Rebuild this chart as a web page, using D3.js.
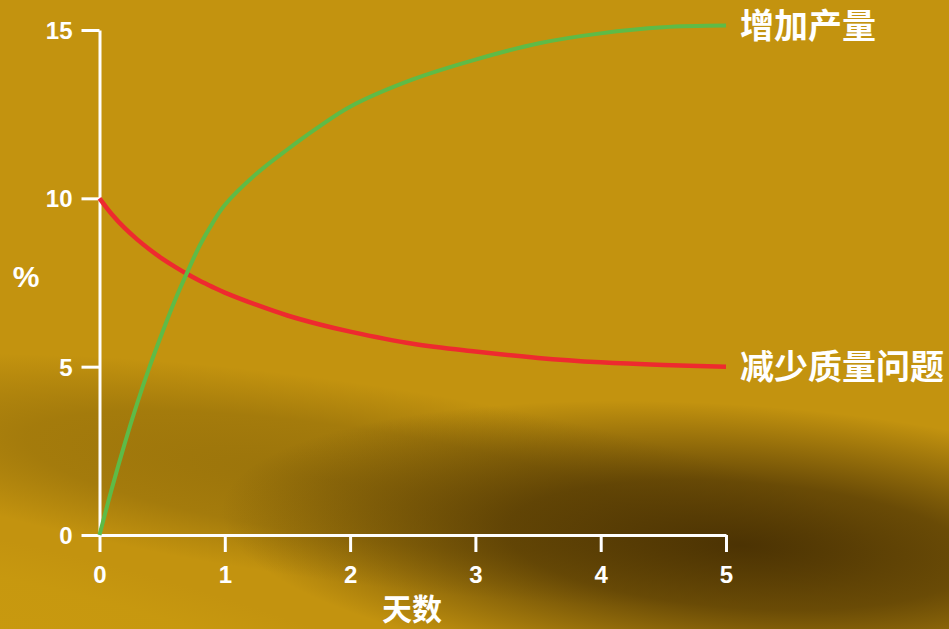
<!DOCTYPE html>
<html>
<head>
<meta charset="utf-8">
<script src="https://cdn.jsdelivr.net/npm/d3@7"></script>
<style>
  html, body { margin: 0; padding: 0; background: #c3930f; overflow: hidden; }
  svg { display: block; }
</style>
</head>
<body>
<div id="chart"></div>
<script>
const days = [0, 0.1, 0.2, 0.3, 0.4, 0.5, 0.6, 0.7, 0.8, 0.9, 1, 1.25, 1.5, 1.75, 2, 2.5, 3, 3.5, 4, 4.5, 5]
const yieldUp = [0, 1.4, 2.7, 3.9, 5.0, 6.0, 6.95, 7.8, 8.6, 9.25, 9.8, 10.72, 11.45, 12.12, 12.72, 13.53, 14.12, 14.6, 14.9, 15.08, 15.13]
const qualityDown = [10, 9.52, 9.12, 8.78, 8.48, 8.21, 7.97, 7.75, 7.55, 7.37, 7.2, 6.84, 6.52, 6.26, 6.04, 5.68, 5.45, 5.26, 5.13, 5.05, 5.0]
const xTicks = [0, 1, 2, 3, 4, 5]
const yTicks = [0, 5, 10, 15]
const seriesNames = ['增加产量', '减少质量问题']

const W = 949, H = 629

const svg = d3.select('#chart')
  .append('svg')
  .attr('viewBox', [0, 0, W, H])
  .attr('width', W)
  .attr('height', H)

// 背景 (ぼかした帯)
const defs = svg.append('defs')
const glow = (id, color, stops) => {
  const g = defs.append('radialGradient').attr('id', id)
  stops.forEach(([o, a]) => g.append('stop')
    .attr('offset', o).attr('stop-color', color).attr('stop-opacity', a))
}
glow('band', '#7f5e08', [['0%', 0.6], ['55%', 0.45], ['100%', 0]])
glow('deep', '#4c3303', [['0%', 1], ['45%', 0.75], ['100%', 0]])
glow('light', '#c8990f', [['0%', 1], ['60%', 0.85], ['100%', 0]])

svg.append('rect').attr('width', W).attr('height', H).attr('fill', '#c3930f')
svg.append('ellipse')
  .attr('cx', 330).attr('cy', 480).attr('rx', 560).attr('ry', 100)
  .attr('transform', 'rotate(8 330 480)')
  .attr('fill', 'url(#band)')
svg.append('ellipse')
  .attr('cx', 740).attr('cy', 545).attr('rx', 520).attr('ry', 140)
  .attr('transform', 'rotate(4 740 545)')
  .attr('fill', 'url(#deep)')
svg.append('ellipse')
  .attr('cx', 60).attr('cy', 650).attr('rx', 500).attr('ry', 95)
  .attr('transform', 'rotate(14 60 650)')
  .attr('fill', 'url(#light)')

const x = d3.scaleLinear().domain([0, 5]).range([99.5, 726])
const y = d3.scaleLinear().domain([0, 15]).range([535, 30])

const line = d3.line()
  .x((d, i) => x(days[i]))
  .y(d => y(d))
  .curve(d3.curveCatmullRom.alpha(0.5))

// 軸
const font = '"Liberation Sans", Arial, sans-serif'
const cjk = '"Noto Sans CJK SC", sans-serif'

const gy = svg.append('g')
  .attr('transform', `translate(${x(0)},0)`)
  .call(d3.axisLeft(y).tickValues(yTicks).tickFormat(d3.format('d'))
    .tickSize(18).tickSizeOuter(0).tickPadding(9))
const gx = svg.append('g')
  .attr('transform', `translate(0,${y(0)})`)
  .call(d3.axisBottom(x).tickValues(xTicks).tickFormat(d3.format('d'))
    .tickSize(17).tickSizeOuter(0).tickPadding(0))

svg.selectAll('.domain, .tick line')
  .attr('stroke', '#fff')
  .attr('stroke-width', 3)
svg.selectAll('.tick text')
  .attr('fill', '#fff')
  .style('font-family', font)
  .style('font-weight', 'bold')
  .style('font-size', '24px')
gx.selectAll('.tick text').attr('y', 31).attr('dy', '0.71em')
gy.selectAll('.tick text').attr('dy', '0.36em')

// lines
svg.append('path')
  .attr('d', line(qualityDown))
  .attr('fill', 'none')
  .attr('stroke', '#ee2a2f')
  .attr('stroke-width', 4.5)
svg.append('path')
  .attr('d', line(yieldUp))
  .attr('fill', 'none')
  .attr('stroke', '#5ebb47')
  .attr('stroke-width', 4)

// ラベル
const last = days.length - 1
const label = (tx, ty, s, anchor) => svg.append('text')
  .attr('x', tx).attr('y', ty).attr('dy', '0.36em')
  .attr('text-anchor', anchor)
  .attr('fill', '#fff')
  .style('font-family', cjk)
  .style('font-weight', 'bold')
  .style('font-size', '34px')
  .text(s)
label(740, y(yieldUp[last]), seriesNames[0], 'start')
label(740, y(qualityDown[last]), seriesNames[1], 'start')
label(412, 609, '天数', 'middle').style('font-size', '30px')

svg.append('text')
  .attr('x', 26).attr('y', 276).attr('dy', '0.36em').attr('text-anchor', 'middle')
  .attr('fill', '#fff')
  .style('font-family', font)
  .style('font-weight', 'bold')
  .style('font-size', '30px')
  .text('%')
</script>
</body>
</html>
